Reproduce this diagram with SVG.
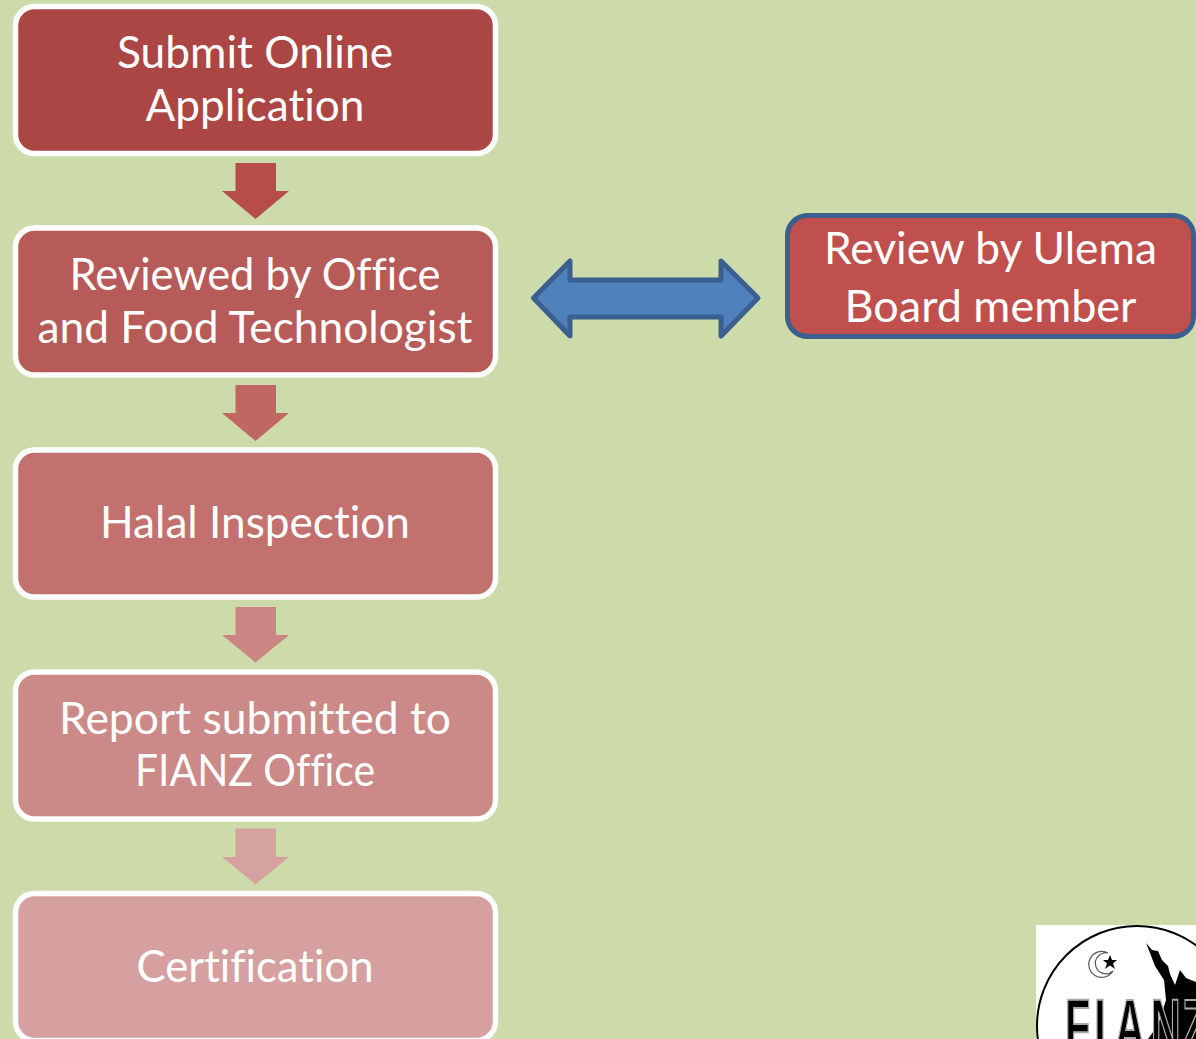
<svg xmlns="http://www.w3.org/2000/svg" width="1196" height="1039" viewBox="0 0 1196 1039">
<style>
.box{stroke:#fff;stroke-width:5.500}
.t{font-family:Lato,"Noto Sans","Liberation Sans",sans-serif;font-size:44px;fill:#fff;text-anchor:middle;font-variant-ligatures:none}
</style>
<rect width="1196" height="1039" fill="#ccdba9"/>
<g id="connectors">
<path id="a1" d="M235.500 163H276V191H289L255.500 219L222 191H235.500Z" fill="#b74d4a"/>
<path id="a2" d="M235.500 385H276V413H289L255.500 441L222 413H235.500Z" fill="#c06663"/>
<path id="a3" d="M235.500 607H276V635H289L255.500 662.500L222 635H235.500Z" fill="#cb8583"/>
<path id="a4" d="M235.500 828.500H276V857H289L255.500 884.500L222 857H235.500Z" fill="#d5a2a1"/>
<path id="a5" d="M533.500 298L570 261V280H721V261L758 298L721 336V317H570V336Z" fill="#4f81bd" stroke="#3b5f8e" stroke-width="5" stroke-linejoin="round"/>
</g>
<g id="n1"><rect class="box" x="15.500" y="6.500" width="480" height="147" rx="19" fill="#ac4644"/>
<text class="t" x="255" y="68" textLength="276" lengthAdjust="spacingAndGlyphs">Submit Online</text>
<text class="t" x="255" y="120.500" textLength="219" lengthAdjust="spacingAndGlyphs">Application</text></g>
<g id="n2"><rect class="box" x="15.500" y="228" width="480" height="147" rx="19" fill="#b75b58"/>
<text class="t" x="255" y="290" textLength="371" lengthAdjust="spacingAndGlyphs">Reviewed by Office</text>
<text class="t" x="255" y="342.500" textLength="435" lengthAdjust="spacingAndGlyphs">and Food Technologist</text></g>
<g id="n3"><rect class="box" x="15.500" y="450" width="480" height="147" rx="19" fill="#c2716e"/>
<text class="t" x="255" y="537.500" textLength="310" lengthAdjust="spacingAndGlyphs">Halal Inspection</text></g>
<g id="n4"><rect class="box" x="15.500" y="672" width="480" height="147" rx="19" fill="#cb8a88"/>
<text class="t" x="255" y="733.500" textLength="392" lengthAdjust="spacingAndGlyphs">Report submitted to</text>
<text class="t" x="255" y="785.500" textLength="240" lengthAdjust="spacingAndGlyphs">FIANZ Office</text></g>
<g id="n5"><rect class="box" x="15.500" y="893.500" width="480" height="147" rx="19" fill="#d6a0a0"/>
<text class="t" x="255" y="981.500" textLength="237" lengthAdjust="spacingAndGlyphs">Certification</text></g>
<g id="n6"><rect x="787.500" y="215.500" width="406" height="121" rx="20" fill="#c0504d" stroke="#3b5f8e" stroke-width="5"/>
<text class="t" x="990.500" y="264" textLength="333" lengthAdjust="spacingAndGlyphs">Review by Ulema</text>
<text class="t" x="990.500" y="322" textLength="292" lengthAdjust="spacingAndGlyphs">Board member</text></g>
<g id="logo">
<clipPath id="c"><rect x="1036" y="925" width="160" height="114"/></clipPath>
<rect x="1036" y="925" width="160" height="114" fill="#fff"/>
<g clip-path="url(#c)">
<circle cx="1137" cy="1026" r="100" fill="#fff" stroke="#000" stroke-width="2"/>
<path d="M1146 943L1152 950L1158 951L1162 960L1168 966L1170 974L1175 985L1180 970L1186 978L1196 982V1039H1148L1158 1025L1166 1000L1164 980L1155 966L1150 953Z" fill="#000"/>
<text transform="translate(1065 1051) scale(.55 1)" x="0 53 91 156 213" y="0" font-family="'Liberation Sans',sans-serif" font-weight="700" font-size="75" fill="#000" stroke="#aaa" stroke-width="2">FIANZ</text>
<path d="M1108 953A13 13 0 1 0 1113 971A10.500 10.500 0 1 1 1108 953Z" fill="#fff" stroke="#555" stroke-width="1.200"/>
<path d="M1110 955L1112 960L1117 960L1113 963.500L1115 969L1110 965.500L1105 969L1107 963.500L1103 960L1108 960Z" fill="#000"/>
</g>
</g>
</svg>
